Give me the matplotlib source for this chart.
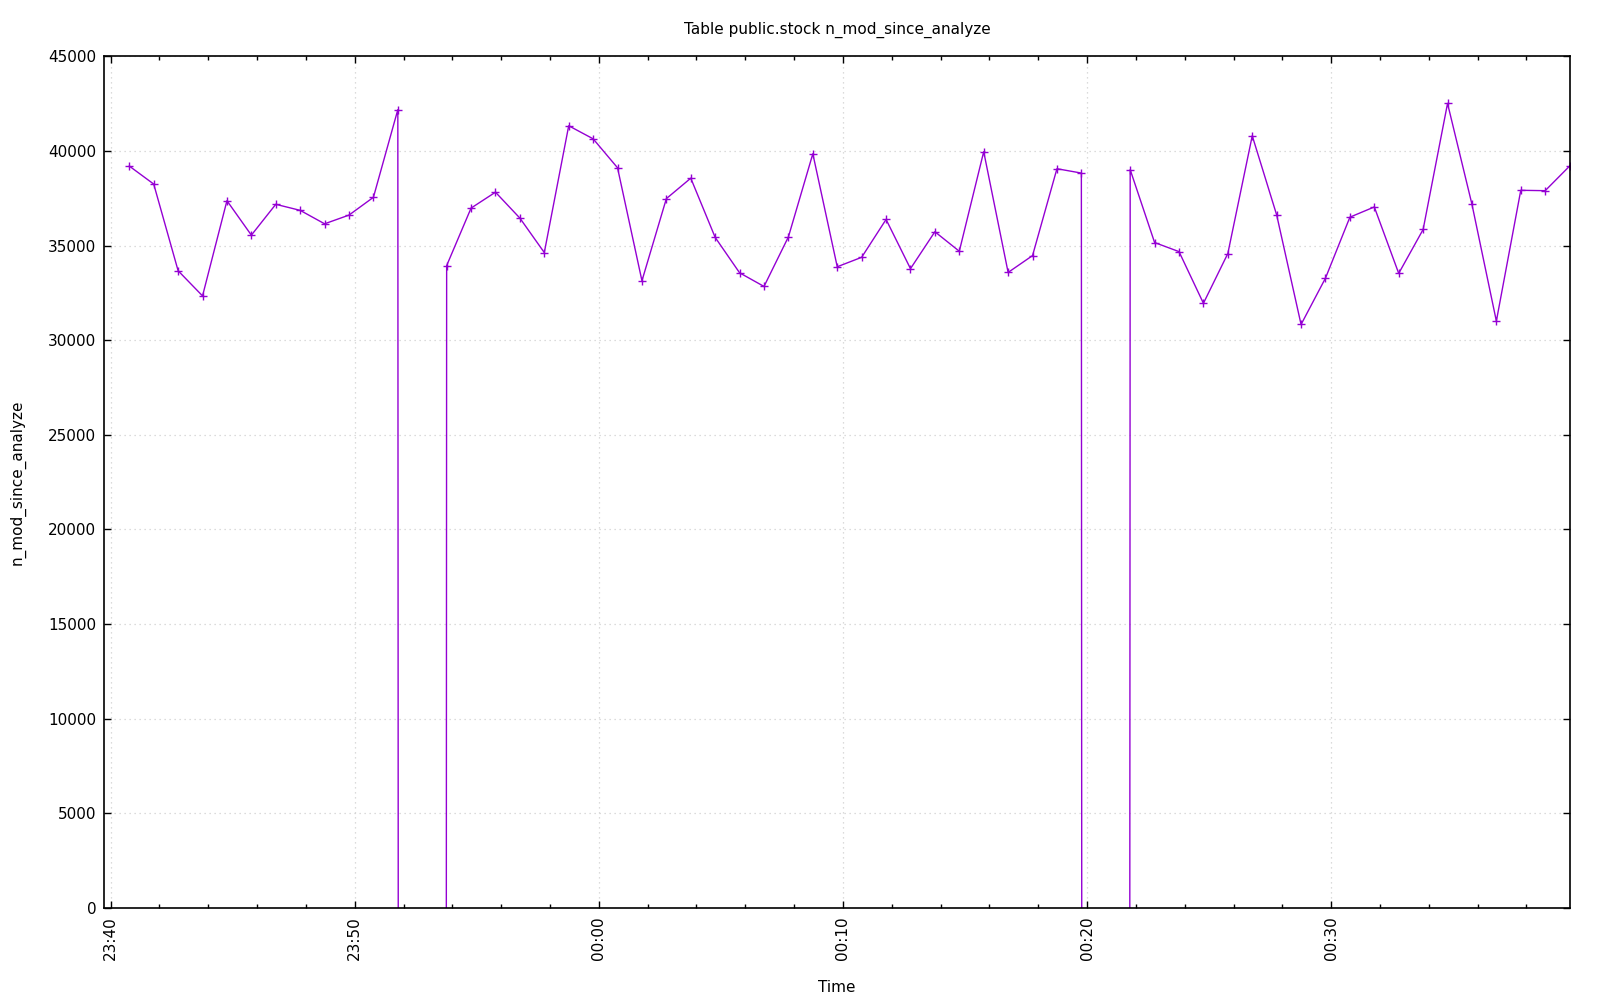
import matplotlib
matplotlib.use("Agg")
import matplotlib.pyplot as plt
import matplotlib.dates as mdates
import pandas as pd

# one sample per minute, 23:40:46 .. 00:39:46
times = pd.date_range("2024-01-01 23:40:46", periods=60, freq="1min")
n_mod = [
    39200, 38250, 33670, 32340, 37370, 35550, 37180, 36860, 36150, 36610,
    37550, 42180, -2500000, 33940, 36980, 37820, 36450, 34630, 41330, 40640,
    39110, 33140, 37480, 38560, 35430, 33560, 32840, 35460, 39850, 33880,
    34380, 36380, 33780, 35730, 34700, 39960, 33580, 34470, 39060, 38830,
    -2500000, 39010, 35160, 34680, 31950, 34580, 40800, 36620, 30830, 33280,
    36500, 37040, 33530, 35850, 42510, 37180, 31010, 37920, 37900, 39200,
]
x_start = pd.Timestamp("2024-01-01 23:39:45")
x_end = pd.Timestamp("2024-01-02 00:39:46")
y_ticks = list(range(0, 45001, 5000))

plt.rcParams["font.family"] = "DejaVu Sans"
plt.rcParams["font.size"] = 11

fig = plt.figure(figsize=(16, 10), dpi=100)
ax = fig.add_axes([0.0653, 0.092, 0.9157, 0.8517])

ax.plot(times, n_mod, color="#9400D3", lw=1.0, marker="+", ms=6, mew=1.0)

ax.set_xlim(x_start, x_end)
ax.set_ylim(0, 45000)
ax.set_yticks(y_ticks)
ax.xaxis.set_major_locator(mdates.MinuteLocator(byminute=range(0, 60, 10)))
ax.xaxis.set_minor_locator(mdates.MinuteLocator(byminute=range(0, 60, 2)))
ax.xaxis.set_major_formatter(mdates.DateFormatter("%H:%M"))
plt.setp(ax.get_xticklabels(), rotation=90, ha="center", va="top")

ax.tick_params(which="both", direction="in", top=True, right=True, color="black")
ax.tick_params(which="major", length=5, width=1, pad=6)
ax.tick_params(which="minor", length=3, width=1)
for s in ax.spines.values():
    s.set_linewidth(1.2)

ax.grid(True, which="major", color="#d0d0d0", linestyle=(0, (1, 3)), linewidth=0.9)

ax.set_title("Table public.stock n_mod_since_analyze", fontsize=11, pad=16)
ax.set_xlabel("Time", labelpad=14)
ax.set_ylabel("n_mod_since_analyze", labelpad=16)

fig.savefig("out.png", dpi=100)
